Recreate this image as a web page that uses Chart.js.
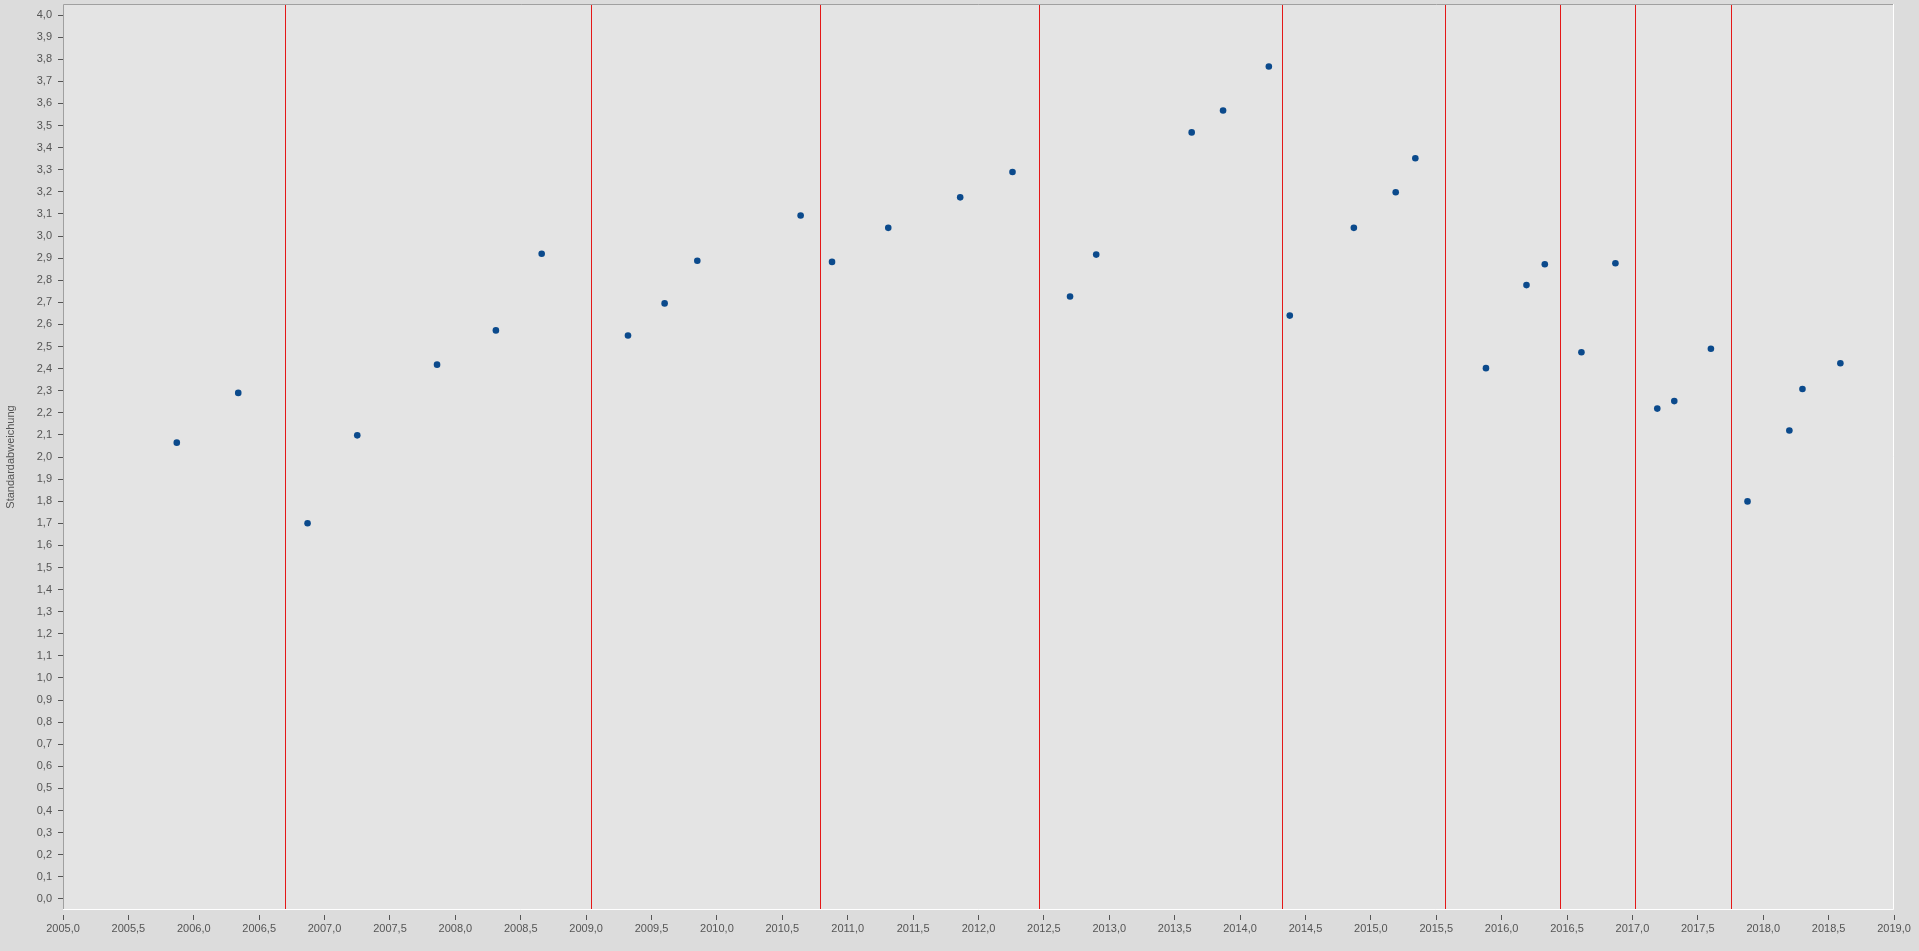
<!DOCTYPE html>
<html>
<head>
<meta charset="utf-8">
<script src="https://cdn.jsdelivr.net/npm/chart.js@4/dist/chart.umd.min.js"></script>
<style>
  html, body { margin: 0; padding: 0; background: #dcdcdc; }
  #wrap { width: 1919px; height: 951px; position: relative; }
</style>
</head>
<body>
<div id="wrap"><canvas id="sdChart" width="1919" height="951"></canvas></div>
<script>
// --- DATA ---
const pointYears = [
  2005.87, 2006.34, 2006.87, 2007.25, 2007.86, 2008.31, 2008.66, 2009.32, 2009.60,
  2009.85, 2010.64, 2010.88, 2011.31, 2011.86, 2012.26, 2012.70, 2012.90, 2013.63,
  2013.87, 2014.22, 2014.38, 2014.87, 2015.19, 2015.34, 2015.88, 2016.19, 2016.33,
  2016.61, 2016.87, 2017.19, 2017.32, 2017.60, 2017.88, 2018.20, 2018.30, 2018.59
];
const pointValues = [
  2.065, 2.29, 1.70, 2.098, 2.418, 2.573, 2.92, 2.55, 2.695,
  2.888, 3.093, 2.883, 3.037, 3.175, 3.29, 2.726, 2.916, 3.469,
  3.568, 3.767, 2.64, 3.037, 3.198, 3.352, 2.402, 2.778, 2.872,
  2.474, 2.877, 2.219, 2.253, 2.49, 1.799, 2.12, 2.308, 2.424
];
// rote Trennlinien (Jahr)
const breakYears = [2006.70, 2009.04, 2010.79, 2012.46, 2014.32, 2015.57, 2016.45, 2017.02, 2017.75];

const xTicks = [];
for (let i = 0; i <= 28; i++) xTicks.push(2005 + i * 0.5);
const yTicks = [];
for (let i = 0; i <= 40; i++) yTicks.push(i / 10);

const fmt = (v) => v.toFixed(1).replace(".", ",");

// --- PLUGIN: Hintergrund, Rahmen, rote Linien ---
const framePlugin = {
  id: "frame",
  beforeDatasetsDraw(chart) {
    const { ctx, chartArea: a, scales } = chart;
    ctx.save();
    ctx.fillStyle = "#e4e4e4";
    ctx.fillRect(a.left, a.top, a.right - a.left, a.bottom - a.top);
    // rote vertikale Linien
    ctx.strokeStyle = "#e41818";
    ctx.lineWidth = 1;
    breakYears.forEach((yr) => {
      const x = Math.round(scales.x.getPixelForValue(yr)) + 0.5;
      ctx.beginPath();
      ctx.moveTo(x, a.top);
      ctx.lineTo(x, a.bottom);
      ctx.stroke();
    });
    // Rahmen: oben/links grau, unten/rechts weiss
    ctx.strokeStyle = "#a0a0a0";
    ctx.beginPath();
    ctx.moveTo(a.left + 0.5, a.bottom);
    ctx.lineTo(a.left + 0.5, a.top + 0.5);
    ctx.lineTo(a.right, a.top + 0.5);
    ctx.stroke();
    ctx.strokeStyle = "#ffffff";
    ctx.beginPath();
    ctx.moveTo(a.left, a.bottom - 0.5);
    ctx.lineTo(a.right - 0.5, a.bottom - 0.5);
    ctx.lineTo(a.right - 0.5, a.top);
    ctx.stroke();
    ctx.restore();
  },
};

const ctx = document.getElementById("sdChart").getContext("2d");
new Chart(ctx, {
  type: "scatter",
  data: {
    datasets: [
      {
        data: pointYears.map((x, i) => ({ x: x, y: pointValues[i] })),
        backgroundColor: "#0b4a8c",
        borderColor: "#0b4a8c",
        pointRadius: 3.3,
        pointBorderWidth: 0,
      },
    ],
  },
  options: {
    responsive: false,
    animation: false,
    layout: { padding: { top: 2, right: 25, bottom: 0, left: 0 } },
    plugins: { legend: { display: false }, tooltip: { enabled: false } },
    scales: {
      x: {
        type: "linear",
        min: 2005,
        max: 2019,
        afterBuildTicks: (s) => { s.ticks = xTicks.map((v) => ({ value: v })); },
        afterFit: (s) => { s.height = 41; s.paddingLeft = 0; s.paddingRight = 0; },
        border: { display: false },
        grid: {
          drawOnChartArea: false,
          drawTicks: true,
          tickLength: 10,
          tickColor: "#555",
          tickBorderDash: [5, 5],
          tickBorderDashOffset: 5,
        },
        ticks: {
          autoSkip: false,
          maxRotation: 0,
          padding: 2,
          color: "#555",
          font: { family: "Liberation Sans, Arial", size: 11 },
          callback: (v) => fmt(v),
        },
      },
      y: {
        min: -0.05,
        max: 4.05,
        afterBuildTicks: (s) => { s.ticks = yTicks.map((v) => ({ value: v })); },
        afterFit: (s) => { s.width = 63; s.paddingTop = 0; s.paddingBottom = 0; },
        border: { display: false },
        grid: {
          drawOnChartArea: false,
          drawTicks: true,
          tickLength: 9,
          tickColor: "#555",
          tickBorderDash: [5, 4],
          tickBorderDashOffset: 5,
        },
        ticks: {
          autoSkip: false,
          padding: 2,
          color: "#555",
          font: { family: "Liberation Sans, Arial", size: 11 },
          callback: (v) => fmt(v),
        },
        title: {
          display: true,
          text: "Standardabweichung",
          color: "#555",
          padding: { top: 4, bottom: 0 },
          font: { family: "Liberation Sans, Arial", size: 11 },
        },
      },
    },
  },
  plugins: [framePlugin],
});
</script>
</body>
</html>
